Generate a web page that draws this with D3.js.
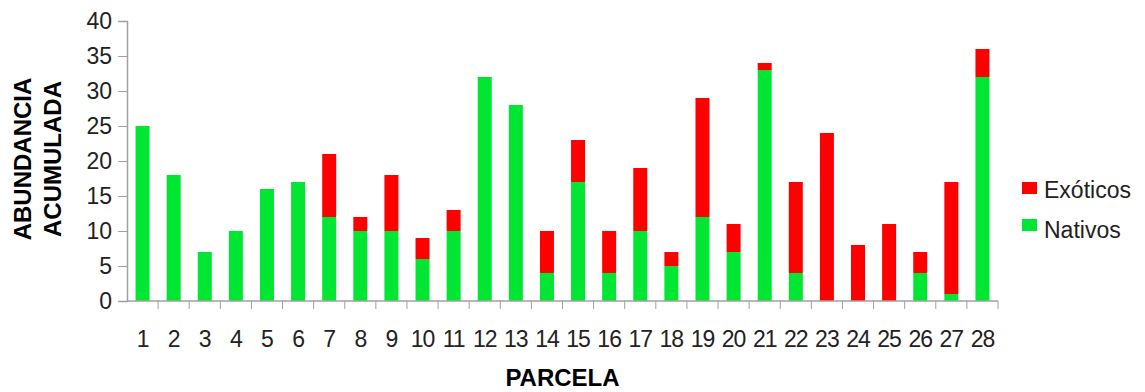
<!DOCTYPE html>
<html>
<head>
<meta charset="utf-8">
<script src="https://cdn.jsdelivr.net/npm/d3@7"></script>
<style>
  body { margin: 0; background: white; }
  text { font-family: "Liberation Sans", Arial, sans-serif; }
</style>
</head>
<body>
<div id="grafico"></div>
<script>
// datos
var parcelas = d3.range(1, 29).map(String);
var nativos = [25, 18, 7, 10, 16, 17, 12, 10, 10, 6, 10, 32, 28, 4, 17, 4, 10, 5, 12, 7, 33, 4, 0, 0, 0, 4, 1, 32];
var exoticos = [0, 0, 0, 0, 0, 0, 9, 2, 8, 3, 3, 0, 0, 6, 6, 6, 9, 2, 17, 4, 1, 13, 24, 8, 11, 3, 16, 4];
var yTicks = [0, 5, 10, 15, 20, 25, 30, 35, 40];
var series = ["Nativos", "Exóticos"];
var colores = { "Nativos": "#00e633", "Exóticos": "#ff0000" };

var W = 1145, H = 392;
var margin = { left: 127, top: 21, right: 147, bottom: 91 };
var width = W - margin.left - margin.right;
var height = H - margin.top - margin.bottom;

var tabla = parcelas.map(function (p, i) {
  return { parcela: p, "Nativos": nativos[i], "Exóticos": exoticos[i] };
});

var svg = d3.select("#grafico")
  .append("svg")
  .attr("width", W)
  .attr("height", H)
  .append("g")
  .attr("transform", "translate(" + margin.left + "," + margin.top + ")");

var xscale = d3.scaleBand()
  .domain(parcelas)
  .range([0, width])
  .paddingInner(0.55)
  .paddingOuter(0.275);

var yscale = d3.scaleLinear()
  .domain([0, 40])
  .range([height, 0]);

var apilado = d3.stack().keys(series)(tabla);

svg.append("g")
  .selectAll("g")
  .data(apilado)
  .enter().append("g")
  .attr("fill", d => colores[d.key])
  .selectAll("rect")
  .data(d => d)
  .enter().append("rect")
  .attr("x", d => xscale(d.data.parcela))
  .attr("width", xscale.bandwidth())
  .attr("y", d => yscale(d[1]))
  .attr("height", d => yscale(d[0]) - yscale(d[1]));

// eje y
var yAxis = svg.append("g")
  .attr("class", "yAxis")
  .call(d3.axisLeft(yscale).tickValues(yTicks).tickSize(9).tickPadding(6));
yAxis.select(".domain").attr("stroke", "#a0a0a0").attr("stroke-width", 1.5);
yAxis.selectAll(".tick line").attr("stroke", "#a0a0a0");
yAxis.selectAll("text").style("font-size", "23px").attr("fill", "#222");

// eje x con marcas entre categorias
var xAxis = svg.append("g")
  .attr("transform", "translate(0," + height + ")");
xAxis.append("line")
  .attr("x1", 0).attr("x2", width)
  .attr("stroke", "#a0a0a0").attr("stroke-width", 1.5);
xAxis.selectAll(".marca")
  .data(parcelas)
  .enter().append("line")
  .attr("class", "marca")
  .attr("x1", d => xscale(d) - xscale.step() * xscale.paddingInner() / 2 + xscale.step())
  .attr("x2", d => xscale(d) - xscale.step() * xscale.paddingInner() / 2 + xscale.step())
  .attr("y1", 0).attr("y2", 8)
  .attr("stroke", "#a0a0a0");
xAxis.selectAll(".etiqueta")
  .data(parcelas)
  .enter().append("text")
  .attr("class", "etiqueta")
  .attr("x", d => xscale(d) + xscale.bandwidth() / 2)
  .attr("y", 46)
  .attr("text-anchor", "middle")
  .attr("fill", "#222")
  .style("font-size", "23px")
  .style("letter-spacing", "-1px")
  .text(d => d);

// titulos
svg.append("text")
  .attr("x", width / 2)
  .attr("y", height + 85)
  .attr("text-anchor", "middle")
  .style("font-size", "24px")
  .style("font-weight", "bold")
  .text("PARCELA");

var ytit = svg.append("text")
  .attr("transform", "translate(" + (-96) + "," + 138 + ")rotate(-90)")
  .attr("text-anchor", "middle")
  .style("font-size", "24px")
  .style("font-weight", "bold");
ytit.append("tspan").attr("x", 0).attr("dy", 0).text("ABUNDANCIA");
ytit.append("tspan").attr("x", 0).attr("dy", 30).text("ACUMULADA");

// leyenda
var leyenda = svg.append("g")
  .attr("transform", "translate(" + (width + 24) + ",0)");
var items = ["Exóticos", "Nativos"];
leyenda.selectAll("rect")
  .data(items)
  .enter().append("rect")
  .attr("x", 0)
  .attr("y", (d, i) => 161 + i * 37)
  .attr("width", 15)
  .attr("height", 12)
  .attr("fill", d => colores[d]);
leyenda.selectAll("text")
  .data(items)
  .enter().append("text")
  .attr("x", 22)
  .attr("y", (d, i) => 177 + i * 40)
  .style("font-size", "23px")
  .attr("fill", "#222")
  .text(d => d);
</script>
</body>
</html>
